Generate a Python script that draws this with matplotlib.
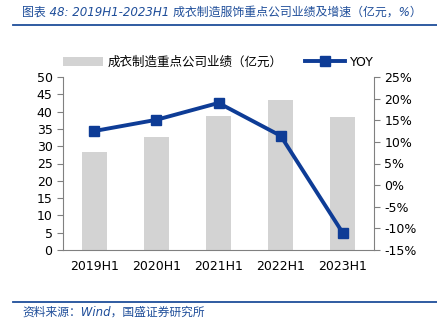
import numpy as np
import matplotlib.pyplot as plt
from matplotlib.ticker import FuncFormatter

plt.rcParams['font.family'] = ['DejaVu Sans', 'Noto Sans CJK SC']

# ── Data ──────────────────────────────────────────────────────────────────
periods = ['2019H1', '2020H1', '2021H1', '2022H1', '2023H1']
revenue = [28.3, 32.6, 38.7, 43.4, 38.4]      # 亿元
yoy     = [12.5, 15.1, 19.0, 11.4, -11.1]     # %

bar_color  = '#D3D3D3'
line_color = '#0E3C96'
blue_text  = '#1F4E9A'

fig = plt.figure(figsize=(4.37, 3.27), dpi=100)
ax1 = fig.add_axes([63 / 437, 1 - 250 / 327, 311 / 437, 173 / 327])
ax2 = ax1.twinx()

x = np.arange(len(periods))
ax1.bar(x, revenue, width=0.4, color=bar_color, label='成衣制造重点公司业绩（亿元）', zorder=1)
ax2.plot(x, yoy, color=line_color, linewidth=2.8, marker='s', markersize=7,
         label='YOY', zorder=3)

ax1.set_xlim(-0.5, len(periods) - 0.5)
ax1.set_ylim(0, 50)
ax1.set_yticks(np.arange(0, 51, 5))
ax2.set_ylim(-15, 25)
ax2.set_yticks(np.arange(-15, 26, 5))
ax2.yaxis.set_major_formatter(FuncFormatter(lambda v, p: f'{v:.0f}%'))
ax1.set_xticks(x)
ax1.set_xticklabels(periods)

for ax in (ax1, ax2):
    ax.spines['top'].set_visible(False)
    for s in ('left', 'right', 'bottom'):
        ax.spines[s].set_color('#808080')
        ax.spines[s].set_linewidth(0.8)
    ax.tick_params(labelsize=9, colors='black', length=4, width=0.8)
    ax.tick_params(color='#808080')
ax1.tick_params(axis='x', length=0, pad=7)
ax1.spines['right'].set_visible(False)
ax2.spines['left'].set_visible(False)
ax2.spines['bottom'].set_visible(False)

# legend
h1, l1 = ax1.get_legend_handles_labels()
h2, l2 = ax2.get_legend_handles_labels()
fig.legend(h1 + h2, l1 + l2, loc='center', bbox_to_anchor=(0.5, 1 - 62 / 327),
           ncol=2, frameon=False, handlelength=3.2, handletextpad=0.4,
           columnspacing=1.8, prop={'family': ['DejaVu Sans', 'Noto Sans CJK SC'], 'size': 9})

# title and source
fig.text(22 / 437, 1 - 12 / 327, '图表 48: 2019H1-2023H1 成衣制造服饰重点公司业绩及增速（亿元，%）',
         fontsize=8.6, color=blue_text, style='italic', va='center')
fig.add_artist(plt.Line2D([13 / 437, 1], [1 - 25 / 327, 1 - 25 / 327],
                          color='#1F4E9A', linewidth=1.3))
fig.add_artist(plt.Line2D([13 / 437, 1], [1 - 302 / 327, 1 - 302 / 327],
                          color='#1F4E9A', linewidth=1.3))
fig.text(22 / 437, 1 - 312 / 327, '资料来源：Wind，国盛证券研究所',
         fontsize=8.5, color=blue_text, style='italic', va='center')

plt.savefig('out.png', dpi=100)
